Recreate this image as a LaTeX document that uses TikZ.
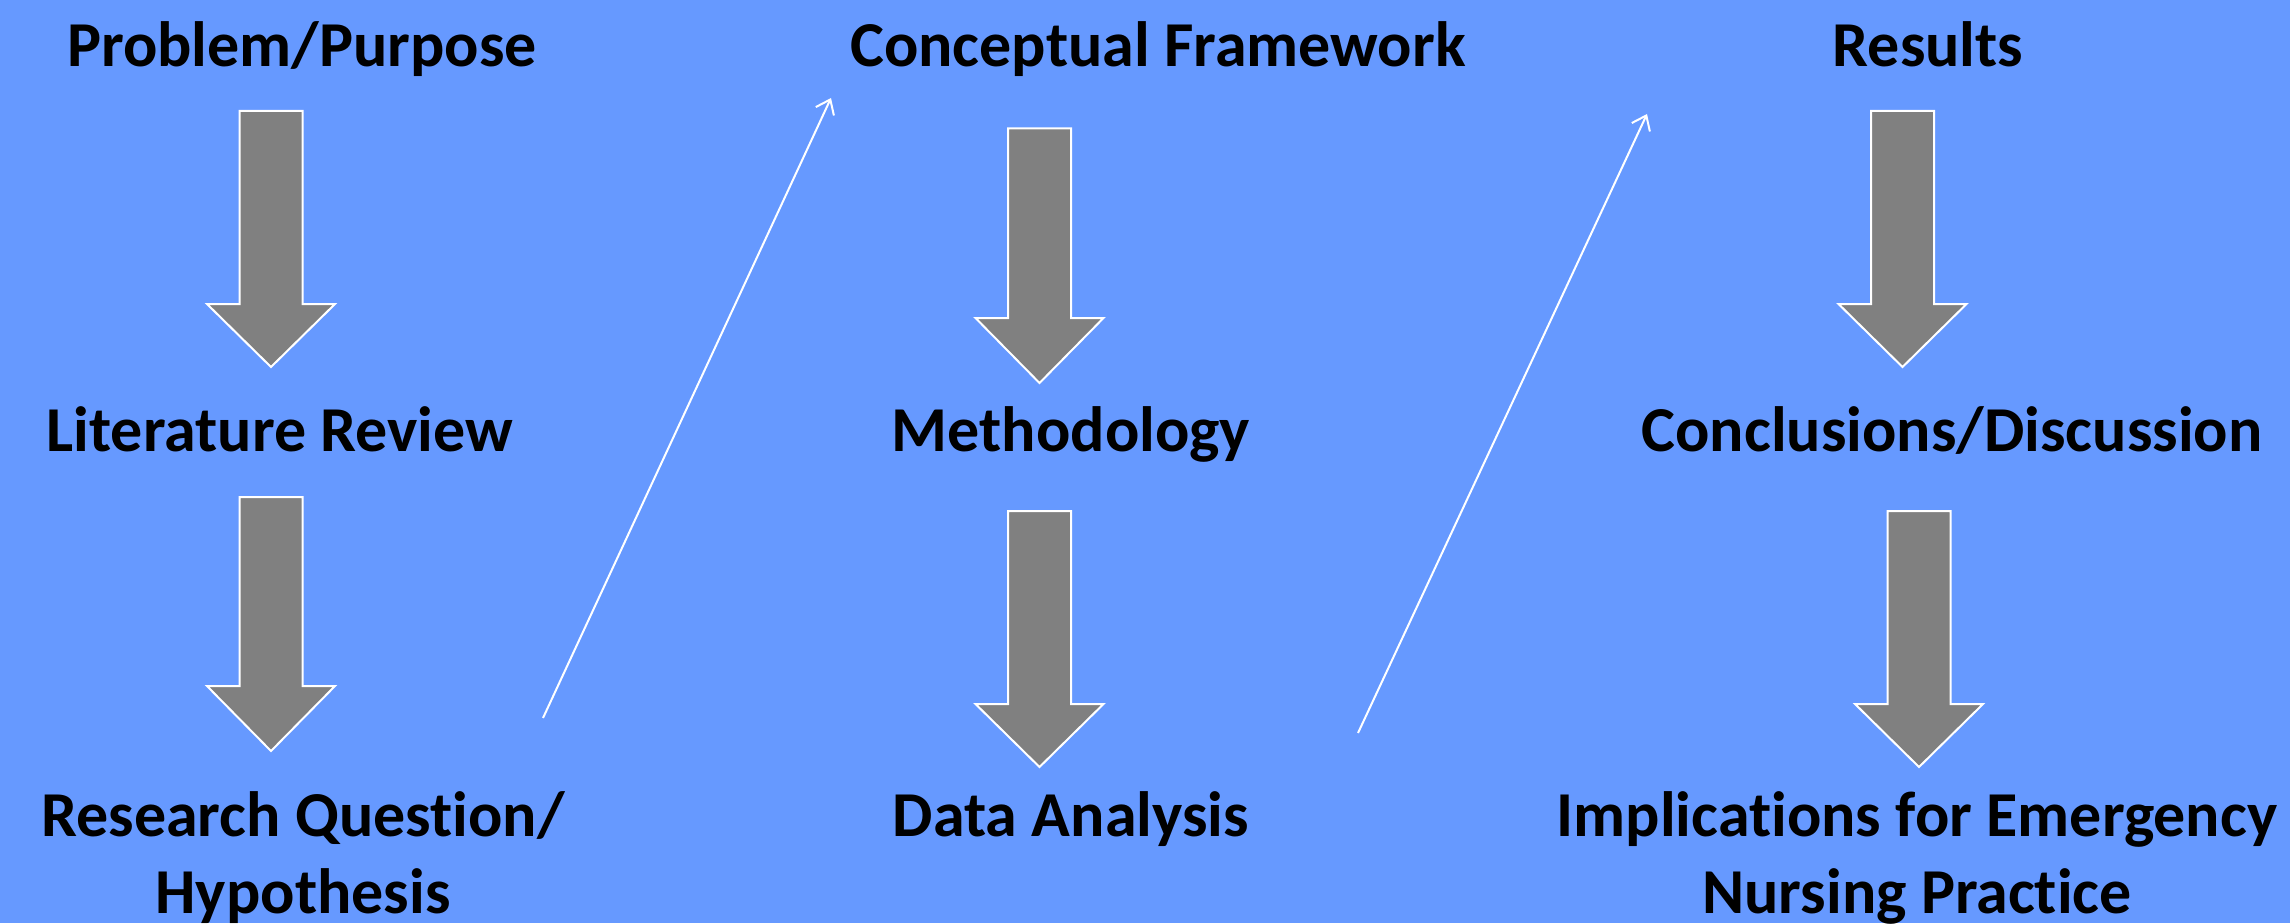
\documentclass[tikz,border=0pt]{standalone}
\usepackage{fontspec}
\setmainfont{Carlito}[Ligatures=NoCommon]
\usetikzlibrary{arrows.meta}
\definecolor{bg}{HTML}{6699FF}
\definecolor{arrowgray}{HTML}{808080}
\tikzset{
  lbl/.style={font=\fontsize{64}{77}\selectfont\bfseries, text=black, inner sep=0pt, anchor=base, align=center},
  blockarrow/.style={fill=arrowgray, draw=white, line width=2pt, line join=miter},
  thinarrow/.style={draw=white, line width=2pt, -{Straight Barb[length=13pt,width=20pt,line width=2pt]}}
}
\newcommand\downblock[4]{% cx, top, head start, tip
  \draw[blockarrow] (#1-31.5,#2) -- (#1+31.5,#2) -- (#1+31.5,#3) -- (#1+64,#3) -- (#1,#4) -- (#1-64,#3) -- (#1-31.5,#3) -- cycle;}
\begin{document}
\begin{tikzpicture}[x=1pt,y=-1pt]
  \fill[bg] (0,0) rectangle (2290,923);
  \useasboundingbox (0,0) rectangle (2290,923);
  % block arrows
  \downblock{271}{111}{304}{367}
  \downblock{271}{497}{686}{751}
  \downblock{1039.5}{128.5}{318}{383}
  \downblock{1039.5}{511}{704}{767}
  \downblock{1902.5}{111}{304}{367}
  \downblock{1919}{511}{704}{767}
  % labels
  \node[lbl] (prob) at (302,67) {Problem/Purpose};
  \node[lbl] (lit) at (280,451) {Literature Review};
  \node[lbl] (rq) at (303,913) {Research Question/\\Hypothesis};
  \node[lbl] (cf) at (1158,67) {Conceptual Framework};
  \node[lbl] (meth) at (1071,451) {Methodology};
  \node[lbl] (da) at (1071,836) {Data Analysis};
  \node[lbl] (res) at (1928,67) {Results};
  \node[lbl] (conc) at (1952,451) {Conclusions/Discussion};
  \node[lbl] (impl) at (1917,913) {Implications for Emergency\\Nursing Practice};
  % thin arrows
  \coordinate (a1s) at (543,718);
  \coordinate (a1e) at (831,98);
  \coordinate (a2s) at (1358,733);
  \coordinate (a2e) at (1647,114);
  \draw[thinarrow] (a1s) -- (a1e);
  \draw[thinarrow] (a2s) -- (a2e);
\end{tikzpicture}
\end{document}
